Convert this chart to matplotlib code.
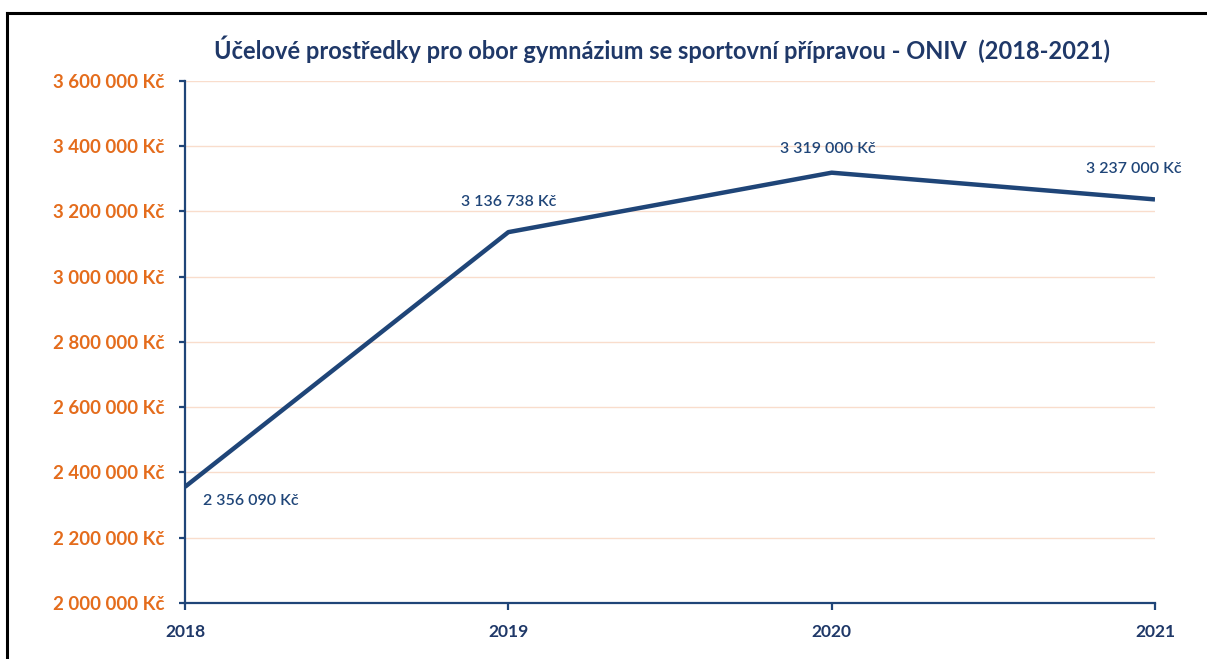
import matplotlib
matplotlib.use("Agg")
import matplotlib.pyplot as plt
from matplotlib.ticker import FuncFormatter, MultipleLocator
from matplotlib.lines import Line2D

plt.rcParams['font.family'] = ['Lato', 'DejaVu Sans']

years = ["2018", "2019", "2020", "2021"]
values = [2356090, 3136738, 3319000, 3237000]
title = "Účelové prostředky pro obor gymnázium se sportovní přípravou - ONIV  (2018-2021)"

NAVY = "#1f4578"
TITLE_NAVY = "#1f3868"
ORANGE = "#e46c1c"
GRID = "#f9ddcc"

def fmt(v):
    return f"{v:,.0f}".replace(",", " ") + " Kč"

fig = plt.figure(figsize=(12.07, 6.59), dpi=100)
ax = fig.add_axes([185/1207, 1-603/659, (1155-185)/1207, (603-81)/659])

x = list(range(len(years)))
ax.plot(x, values, color=NAVY, lw=3.2, solid_capstyle='butt', zorder=3)

ax.set_xlim(0, len(years) - 1)
ax.set_ylim(2000000, 3600000)
ax.yaxis.set_major_locator(MultipleLocator(200000))
ax.yaxis.set_major_formatter(FuncFormatter(lambda v, p: fmt(v)))
ax.set_xticks(x)
ax.set_xticklabels(years)

ax.grid(axis='y', color=GRID, lw=1.0, zorder=0)
ax.set_axisbelow(True)
for s in ['top', 'right']:
    ax.spines[s].set_visible(False)
for s in ['left', 'bottom']:
    ax.spines[s].set_color(NAVY)
    ax.spines[s].set_linewidth(1.6)

ax.tick_params(axis='y', colors=NAVY, labelcolor=ORANGE, length=4.5, width=1.6, pad=10)
ax.tick_params(axis='x', colors=NAVY, labelcolor=TITLE_NAVY, length=5, width=1.6, pad=10)
for lab in ax.get_yticklabels():
    lab.set_fontsize(13.5)
    lab.set_fontweight('bold')
for lab in ax.get_xticklabels():
    lab.set_fontsize(12.5)
    lab.set_fontweight('bold')

offsets = [(13, -10), (0, 22), (-3, 17), (-15, 22)]
aligns = ['left', 'center', 'center', 'center']
for xi, v, off, ha in zip(x, values, offsets, aligns):
    ax.annotate(fmt(v), (xi, v), xytext=off, textcoords='offset points',
                ha=ha, va='center', fontsize=11.5, fontweight='semibold',
                color=NAVY, annotation_clip=False)

fig.text(662/1207, 1-49/659, title, ha='center', va='center',
         fontsize=17, fontweight='bold', color=TITLE_NAVY)

# frame
fig.add_artist(Line2D([7/1207, 7/1207], [0, 1-13/659], color='black', lw=2.2, transform=fig.transFigure))
fig.add_artist(Line2D([7/1207, 1], [1-13/659, 1-13/659], color='black', lw=2.2, transform=fig.transFigure))

fig.savefig("out.png", dpi=100)
